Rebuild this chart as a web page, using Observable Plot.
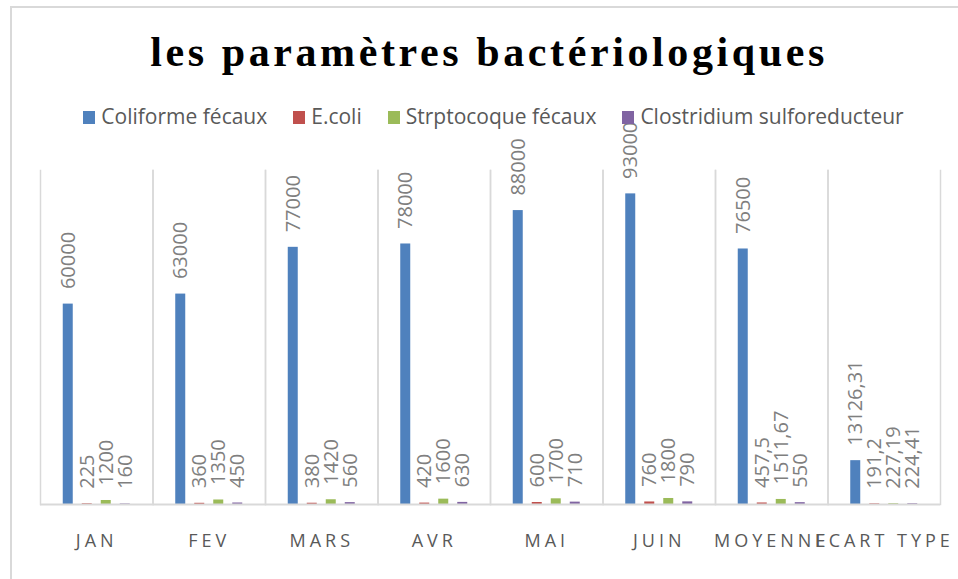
<!DOCTYPE html>
<html>
<head>
<meta charset="utf-8">
<script src="https://cdn.jsdelivr.net/npm/d3@7"></script>
<script src="https://cdn.jsdelivr.net/npm/@observablehq/plot@0.6"></script>
<style>
  html, body { margin: 0; padding: 0; background: #fff; overflow: hidden; }
  #wrap { position: relative; width: 958px; height: 579px; overflow: hidden; }
  #border { position: absolute; left: 10px; top: 6px; width: 1000px; height: 1000px;
            border: 2px solid #d9d9d9; box-sizing: border-box; }
  #chart { position: absolute; left: 0; top: 0; }
  #title { position: absolute; left: 20px; width: 938px; top: 31px; text-align: center;
           font-family: "Liberation Serif", "Times New Roman", serif; font-weight: bold;
           font-size: 42px; line-height: 42px; letter-spacing: 3.6px; color: #000; white-space: nowrap; }
  #legend { position: absolute; left: 29px; width: 929px; top: 104px; display: flex;
            justify-content: center; font-family: "Open Sans", sans-serif; font-size: 21px;
            line-height: 25px; color: #595959; white-space: nowrap; }
  .item { display: flex; align-items: center; margin: 0 13px; }
  .sw { width: 12px; height: 13px; margin-right: 6px; margin-top: 2px; }
  #chart g[aria-label^="fx-axis"] text { letter-spacing: 4px; }
</style>
</head>
<body>
<div id="wrap">
  <div id="border"></div>
  <div id="chart"></div>
  <div id="title">les paramètres bactériologiques</div>
  <div id="legend"></div>
</div>
<script>
const months = ["JAN", "FEV", "MARS", "AVR", "MAI", "JUIN", "MOYENNE", "ECART TYPE"];
const series = ["Coliforme fécaux", "E.coli", "Strptocoque fécaux", "Clostridium sulforeducteur"];
const coliforme = [60000, 63000, 77000, 78000, 88000, 93000, 76500, 13126.31];
const ecoli = [225, 360, 380, 420, 600, 760, 457.5, 191.2];
const strepto = [1200, 1350, 1420, 1600, 1700, 1800, 1511.67, 227.19];
const clostridium = [160, 450, 560, 630, 710, 790, 550, 224.41];
const colors = ["#4F81BD", "#C0504D", "#9BBB59", "#8064A2"];

const valuesBySeries = [coliforme, ecoli, strepto, clostridium];
const data = [];
months.forEach((m, i) => {
  series.forEach((s, j) => {
    data.push({month: m, series: s, value: valuesBySeries[j][i]});
  });
});
const fmt = v => String(v).replace(".", ",");

const chart = Plot.plot({
  width: 958,
  height: 579,
  marginTop: 170,
  marginBottom: 75,
  marginLeft: 40,
  marginRight: 18,
  style: {background: "none", overflow: "visible", fontFamily: "Open Sans", fontSize: "18px", color: "#595959"},
  fx: {domain: months, padding: 0, round: false, axis: "bottom", label: null, tickSize: 0, tickPadding: 30},
  x: {domain: series, axis: null, paddingInner: 9 / 19, paddingOuter: 1.197, round: false},
  y: {domain: [0, 100000], axis: null},
  color: {domain: series, range: colors},
  marks: [
    Plot.frame({anchor: "left", stroke: "#d9d9d9", strokeWidth: 1.5}),
    Plot.frame({anchor: "right", stroke: "#d9d9d9", strokeWidth: 1.5}),
    Plot.barY(data, {fx: "month", x: "series", y: "value", fill: "series"}),
    Plot.ruleY([0], {stroke: "#d9d9d9", strokeWidth: 2}),
    Plot.text(data, {fx: "month", x: "series", y: "value", text: d => fmt(d.value),
      rotate: -90, textAnchor: "start", dy: -15, fill: "#7f7f7f", fontSize: 20, fontFamily: "Open Sans"})
  ]
});
document.getElementById("chart").appendChild(chart);

const legend = document.getElementById("legend");
series.forEach((s, j) => {
  const item = document.createElement("div");
  item.className = "item";
  const sw = document.createElement("span");
  sw.className = "sw";
  sw.style.background = colors[j];
  const t = document.createElement("span");
  t.textContent = s;
  item.appendChild(sw);
  item.appendChild(t);
  legend.appendChild(item);
});
</script>
</body>
</html>
